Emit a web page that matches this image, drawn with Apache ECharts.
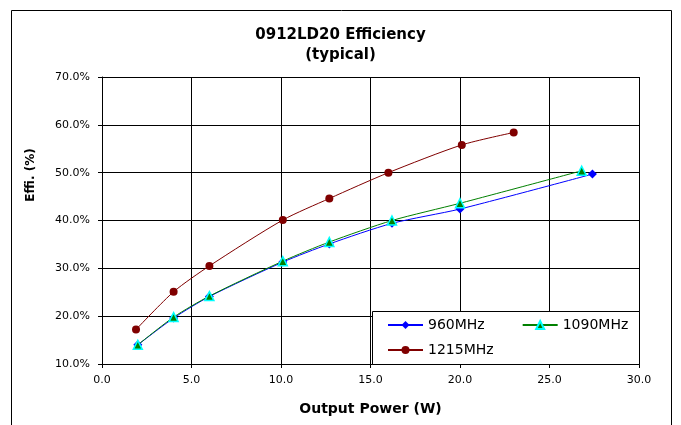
<!DOCTYPE html>
<html><head><meta charset="utf-8">
<script src="https://cdn.jsdelivr.net/npm/echarts@6/dist/echarts.min.js"></script>
<style>html,body{margin:0;padding:0;background:#fff}#c{width:681px;height:425px}</style>
</head><body><div id="c"></div>
<script>
const seriesNames = ['960MHz', '1090MHz', '1215MHz'];
const power960 = [2.0, 4.0, 6.0, 10.1, 12.7, 16.2, 20.0, 27.4];
const eff960 = [14.0, 19.6, 24.1, 31.3, 35.1, 39.4, 42.4, 49.7];
const power1090 = [2.0, 4.0, 6.0, 10.1, 12.7, 16.2, 20.0, 26.8];
const eff1090 = [14.0, 19.8, 24.2, 31.5, 35.5, 40.0, 43.6, 50.4];
const power1215 = [1.9, 4.0, 6.0, 10.1, 12.7, 16.0, 20.1, 23.0];
const eff1215 = [17.2, 25.1, 30.5, 40.1, 44.6, 50.0, 55.8, 58.4];

const zip = (a, b) => a.map((v, i) => [v, b[i]]);
const font = 'DejaVu Sans, Arial, sans-serif';
const legendText = {fontFamily: font, fontSize: 14, color: '#000'};
const legendBase = {
  orient: 'horizontal', padding: [0, 0, 0, 15], itemGap: 37,
  itemWidth: 35, itemHeight: 10, textStyle: legendText
};
const chart = echarts.init(document.getElementById('c'));
chart.setOption({
  animation: false,
  backgroundColor: '#fff',
  graphic: [{
    type: 'rect', left: 11, top: 10, z: -10,
    shape: {width: 660, height: 430},
    style: {fill: '#fff', stroke: '#000', lineWidth: 1}
  }, {
    type: 'rect', left: 372, top: 311, z: 3,
    shape: {width: 267, height: 53},
    style: {fill: '#fff', stroke: '#000', lineWidth: 1}
  }, {
    type: 'text', x: 31, y: 175, rotation: Math.PI / 2,
    style: {text: 'Effi. (%)', fontFamily: font, fontSize: 12, fontWeight: 'bold', fill: '#000',
      align: 'center', verticalAlign: 'middle'}
  }],
  title: {
    text: '0912LD20 Efficiency\n(typical)',
    left: 'center', top: 20,
    textStyle: {fontFamily: font, fontSize: 15, fontWeight: 'bold', color: '#000', lineHeight: 20}
  },
  grid: {left: 102, right: 42, top: 77, bottom: 61},
  legend: [
    Object.assign({data: [seriesNames[0], seriesNames[1]], left: 372, top: 318, z: 5}, legendBase),
    Object.assign({data: [seriesNames[2]], left: 372, top: 343, z: 5}, legendBase)
  ],
  xAxis: {
    type: 'value', min: 0, max: 30, interval: 5,
    name: 'Output Power (W)', nameLocation: 'middle', nameGap: 38,
    nameTextStyle: {fontFamily: font, fontSize: 14, fontWeight: 'bold', color: '#000'},
    axisLine: {lineStyle: {color: '#000', width: 1}},
    axisTick: {show: true, length: 4, lineStyle: {color: '#000'}},
    axisLabel: {fontFamily: font, fontSize: 11, color: '#000', formatter: v => v.toFixed(1), margin: 11},
    splitLine: {show: true, lineStyle: {color: '#000', width: 1}}
  },
  yAxis: {
    type: 'value', min: 10, max: 70, interval: 10,
    axisLine: {show: true, lineStyle: {color: '#000', width: 1}},
    axisTick: {show: true, length: 4, lineStyle: {color: '#000'}},
    axisLabel: {fontFamily: font, fontSize: 11, color: '#000', formatter: v => v.toFixed(1) + '%', margin: 12},
    splitLine: {show: true, lineStyle: {color: '#000', width: 1}}
  },
  series: [
    {
      name: seriesNames[0], type: 'line', data: zip(power960, eff960), smooth: 0.25,
      symbol: 'diamond', symbolSize: 9,
      lineStyle: {color: '#0000ff', width: 1},
      itemStyle: {color: '#0000ff'}, z: 2
    },
    {
      name: seriesNames[1], type: 'line', data: zip(power1090, eff1090), smooth: 0.25,
      symbol: 'triangle', symbolSize: 9,
      lineStyle: {color: '#008000', width: 1},
      itemStyle: {color: '#008000', borderColor: '#00ffff', borderWidth: 1.5}, z: 3
    },
    {
      name: seriesNames[2], type: 'line', data: zip(power1215, eff1215), smooth: 0.25,
      symbol: 'circle', symbolSize: 8,
      lineStyle: {color: '#800000', width: 1},
      itemStyle: {color: '#800000'}, z: 4
    }
  ]
});
</script></body></html>
